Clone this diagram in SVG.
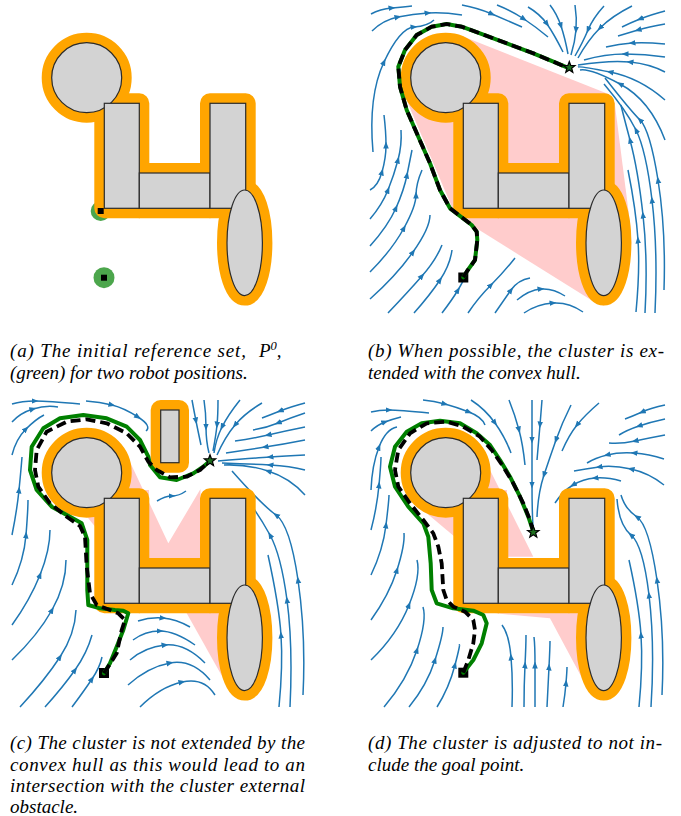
<svg xmlns="http://www.w3.org/2000/svg" xmlns:xlink="http://www.w3.org/1999/xlink" width="681" height="816" viewBox="0 0 681 816">
<style>
.sl{fill:none;stroke:#1f77b4;stroke-width:1.5;marker-mid:url(#ar)}
.hull{fill:#ffcccc}
.gp{fill:none;stroke:#008000;stroke-width:4;stroke-linejoin:round;stroke-linecap:round}
.dp{fill:none;stroke:#000;stroke-width:3.8;stroke-dasharray:10 5;stroke-linejoin:round}
.cap{font-family:"Liberation Serif","Times New Roman",serif;font-style:italic;font-size:19px;fill:#000}
</style>
<defs>
<marker id="ar" viewBox="0 0 10 10" refX="5" refY="5" markerWidth="7" markerHeight="7" markerUnits="userSpaceOnUse" orient="auto">
<path d="M0,1 L10,5 L0,9 Z" fill="#1f77b4"/>
</marker>
<g id="obs-or" fill="#ffa500" stroke="#ffa500" stroke-width="20" stroke-linejoin="round">
<circle cx="86.7" cy="77.7" r="35"/>
<rect x="104.3" y="103.3" width="35" height="105"/>
<rect x="139.3" y="173" width="70.7" height="35.3"/>
<rect x="210" y="103.3" width="35.7" height="105"/>
<ellipse cx="244.7" cy="242.8" rx="17.7" ry="52.8"/>
</g>
<g id="obs-gr" fill="#d3d3d3" stroke="#2b2b2b" stroke-width="1.2">
<circle cx="86.7" cy="77.7" r="35"/>
<rect x="104.3" y="103.3" width="35" height="105"/>
<rect x="139.3" y="173" width="70.7" height="35.3"/>
<rect x="210" y="103.3" width="35.7" height="105"/>
<ellipse cx="244.7" cy="242.8" rx="17.7" ry="52.8"/>
</g>
<path id="star" d="M0,-6 L1.47,-2.02 L5.71,-1.85 L2.38,0.77 L3.53,4.85 L0,2.5 L-3.53,4.85 L-2.38,0.77 L-5.71,-1.85 L-1.47,-2.02 Z" fill="#1e6e1e" stroke="#000" stroke-width="1.2"/>
<rect id="startsq" x="-5" y="-5" width="10" height="10" fill="#000"/>
</defs>
<rect width="681" height="816" fill="#fff"/>

<!-- Panel a -->
<g id="panel-a">
<circle cx="100.7" cy="211" r="10" fill="#4ca64c"/>
<use xlink:href="#obs-or"/>
<use xlink:href="#obs-gr"/>
<circle cx="104" cy="277.7" r="10.5" fill="#4ca64c"/>
<rect x="97.7" y="208" width="6" height="6" fill="#000"/>
<rect x="101" y="274.7" width="6" height="6" fill="#000"/>
</g>

<!-- Panel b -->
<g id="panel-b" transform="translate(359,0)">
<g id="streamlines-b" class="sl">
<path d="M12,14 Q21,9 33,8 T53,6"/>
<path d="M13,31 Q24,20 39,17 T69,13 T103,15"/>
<path d="M14,152 Q9,96 25,62 T55,27 T75,20"/>
<path d="M103,5 Q119,8 133,14 T163,27"/>
<path d="M138,5 Q153,11 165,19 T189,37"/>
<path d="M169,7 Q181,14 188,24 T204,52"/>
<path d="M191,5 Q198,14 202,26 T209,54"/>
<path d="M216,5 Q218,18 217,30 T212,55"/>
<path d="M245,6 Q234,18 229,30 T216,56"/>
<path d="M273,6 Q253,16 241,28 T219,58"/>
<path d="M306,11 Q291,15 281,19 T263,27"/>
<path d="M306,24 Q289,27 279,30 T259,36"/>
<path d="M306,44 Q286,42 273,43 T247,47"/>
<path d="M306,57 Q286,54 266,54 T225,60"/>
<path d="M306,72 Q291,64 271,62 T219,65"/>
<path d="M306,100 Q281,78 251,72 T219,67"/>
<path d="M306,140 Q291,100 261,84 T221,70"/>
<path d="M305,290 Q307,230 299,180 T281,120 T246,78"/>
<path d="M296,313 Q299,250 293,200 T277,130 T245,84"/>
<path d="M286,313 Q289,260 284,215 T271,140 T262,105"/>
<path d="M277,312 Q281,270 279,240 T269,170"/>
<path d="M11,190 Q19,186 23,172 T27,145 T25,115"/>
<path d="M11,219 Q23,205 29,190 T39,160 T42,130"/>
<path d="M11,246 Q29,226 37,208 T48,175 T53,150"/>
<path d="M11,272 Q33,250 45,228 T57,195 T63,170"/>
<path d="M11,299 Q37,276 54,252 T71,215"/>
<path d="M29,313 Q49,292 63,276 T83,245"/>
<path d="M55,313 Q71,295 81,280 T93,250"/>
<path d="M83,313 Q93,300 99,290 T106,276"/>
<path d="M109,313 Q119,298 132,285 T156,258"/>
<path d="M136,313 Q145,300 152,290 T171,278"/>
<path d="M158,300 Q170,290 182,289 T206,296"/>
<path d="M165,313 Q178,304 194,303 T224,312"/>
</g>
<polygon class="hull" points="103.6,36.2 249.4,94 255.7,103.3 271.3,225.3 272.4,242.8 268.7,274.2 258.5,297.2 244.7,305.6 237.3,303.3 99,216.8 95.1,212.2 45.6,95.6"/>
<use xlink:href="#obs-or"/>
<use xlink:href="#obs-gr"/>
<use xlink:href="#startsq" x="104.3" y="277.5"/>
<g id="path-b">
<path class="gp" d="M104.3,277.3 L107.7,271.7 L116,260 L118.3,240 L117.7,231.7 L112.7,225 L91,208.3 L81,190 L71,163.3 L59.3,136.7 L47.7,110 L41,86.7 L39.3,66.7 L46,50 L57.7,35 L72.7,26.7 L87.7,24 L102.7,26.7 L121,33.3 L147.7,43.3 L174.3,53.3 L194.3,61.7 L210.3,68.3"/>
<path class="dp" d="M104.3,277.3 L107.7,271.7 L116,260 L118.3,240 L117.7,231.7 L112.7,225 L91,208.3 L81,190 L71,163.3 L59.3,136.7 L47.7,110 L41,86.7 L39.3,66.7 L46,50 L57.7,35 L72.7,26.7 L87.7,24 L102.7,26.7 L121,33.3 L147.7,43.3 L174.3,53.3 L194.3,61.7 L210.3,68.3"/>
</g>
<use xlink:href="#star" x="210.3" y="67.5"/>
</g>

<!-- Panel c -->
<g id="panel-c" transform="translate(0,395)">
<g id="streamlines-c" class="sl">
<path d="M12,9 Q22,6 35,6 T80,9"/>
<path d="M12,27 Q20,18 33,14 T58,12"/>
<path d="M86,6 Q100,7 112,10 T138,22 T146,36"/>
<path d="M192,5 Q194,16 196,26 T201,50"/>
<path d="M204,5 Q206,18 206,32 T209,58"/>
<path d="M218,5 Q218,20 217,30 T213,56"/>
<path d="M240,5 Q228,20 222,32 T214,58"/>
<path d="M262,8 Q245,18 235,30 T217,60"/>
<path d="M305,8 Q290,12 280,16 T262,23"/>
<path d="M305,18 Q290,23 278,28 T253,35"/>
<path d="M305,32 Q285,36 268,40 T235,46"/>
<path d="M305,45 Q285,49 265,52 T226,58"/>
<path d="M305,60 Q285,61 270,62 T218,66"/>
<path d="M305,75 Q290,71 270,70 T222,68"/>
<path d="M305,100 Q290,83 268,76 T224,70"/>
<path d="M303,300 Q306,240 298,185 T276,120 T232,76"/>
<path d="M290,312 Q293,250 287,205 T270,140 T244,100"/>
<path d="M279,312 Q283,270 281,240 T268,160"/>
<path d="M12,60 Q16,44 26,34 T44,20"/>
<path d="M12,140 Q17,115 19,95 T22,62"/>
<path d="M12,190 Q24,165 26,140 T28,105"/>
<path d="M12,230 Q30,205 40,180 T50,135"/>
<path d="M12,265 Q38,240 52,215 T66,165"/>
<path d="M20,312 Q45,285 60,262 T76,215"/>
<path d="M45,312 Q63,292 75,275 T92,240"/>
<path d="M72,312 Q84,296 92,284 T102,262"/>
<path d="M138,226 Q150,222 163,223 T190,232"/>
<path d="M133,245 Q145,236 160,236 T195,250"/>
<path d="M130,265 Q145,252 165,250 T205,268"/>
<path d="M128,290 Q148,272 170,268 T210,285"/>
<path d="M140,312 Q160,292 182,287 T215,300"/>
<path d="M157,106 Q165,101 172,101 T186,96"/>
</g>
<polygon class="hull" points="130,67 168.3,148.3 200.5,94 200.5,163 149,163 149,95 125,95"/>
<polygon class="hull" points="84,118 97,118 97,134"/>
<polygon class="hull" points="186,217 227,290 245,250 245,217"/>
<use xlink:href="#obs-or"/>
<rect x="160.7" y="15" width="18.3" height="52.7" fill="#ffa500" stroke="#ffa500" stroke-width="20" stroke-linejoin="round"/>
<use xlink:href="#obs-gr"/>
<rect x="160.7" y="15" width="18.3" height="52.7" fill="#d3d3d3" stroke="#2b2b2b" stroke-width="1.2"/>
<use xlink:href="#startsq" x="104" y="278"/>
<g id="path-c">
<path class="gp" d="M104,278.3 L110,268.3 L116.7,251.7 L123.3,235 L128.3,218.3 L123.3,215.7 L115,215 L100,213.3 L88.3,210 L87.3,195 L87.3,168.3 L87.3,145 L81.7,128.3 L70,121.7 L51.7,111.7 L36.7,95 L30,75 L31.7,51.7 L43.3,33.3 L60,23.3 L83.3,20 L106.7,23.3 L126.7,31.7 L140,45 L148.3,61.7 L150,70 L160,82.3 L176.7,85 L193.3,78.3 L203.3,71.7 L210,65.7"/>
<path class="dp" d="M104,278.3 L116.7,258.3 L121.7,235 L125,225 L118.3,218.3 L110,215 L96.7,210 L90,198.3 L86.7,171.7 L85,141.7 L80,131 L66.7,121.7 L50,108.3 L38.3,91.7 L35,75 L36.7,55 L46.7,36.7 L66.7,26.7 L86.7,24.3 L106.7,28.3 L126.7,38.3 L140,51.7 L148.3,66.7 L156.7,75 L170,82.3 L186.7,81.7 L200,75 L210,65.7"/>
</g>
<use xlink:href="#star" x="210" y="65.7"/>
</g>

<!-- Panel d -->
<g id="panel-d" transform="translate(359,395)">
<g id="streamlines-d" class="sl">
<path d="M12,17 Q20,15 30,15 T70,18"/>
<path d="M12,36 Q18,30 26,27 T42,22"/>
<path d="M64,5 Q75,6 86,9 T110,17 T126,30"/>
<path d="M112,5 Q126,14 136,28 T152,58"/>
<path d="M150,5 Q156,20 160,35 T166,70"/>
<path d="M173,5 Q173,25 173,45 T173,90 T174,132"/>
<path d="M183,5 Q182,18 181,30 T178,65"/>
<path d="M212,10 Q203,28 197,45 T185,80 T178,122"/>
<path d="M240,8 Q226,20 218,30 T203,56"/>
<path d="M306,10 Q292,13 283,17 T266,24"/>
<path d="M306,24 Q292,27 280,31 T260,40"/>
<path d="M306,40 Q290,43 276,46 T250,48"/>
<path d="M305,64 Q290,59 275,58 T248,60 T228,68"/>
<path d="M262,86 Q248,82 236,83 T214,90 T196,108"/>
<path d="M305,90 Q290,78 272,74 T240,72 T215,76"/>
<path d="M303,300 Q306,240 298,185 T278,122 T262,100"/>
<path d="M292,312 Q296,250 290,200 T272,140 T258,104"/>
<path d="M280,312 Q284,270 282,240 T270,165"/>
<path d="M12,95 Q13,70 20,52 T38,32"/>
<path d="M12,135 Q18,112 20,90 T22,62"/>
<path d="M12,180 Q24,155 27,130 T30,100"/>
<path d="M12,225 Q30,200 38,175 T45,138"/>
<path d="M12,265 Q38,240 50,210 T58,165"/>
<path d="M25,312 Q48,285 58,255 T64,212"/>
<path d="M50,312 Q68,290 76,265 T84,232"/>
<path d="M78,312 Q90,293 96,270 T100,250"/>
<path d="M153,312 Q154,285 152,262 T143,230"/>
<path d="M165,312 Q165,290 166,270 T167,240"/>
<path d="M176,312 Q176,290 176,270 T175,242"/>
<path d="M188,312 Q189,292 190,272 T191,246"/>
<path d="M204,312 Q206,300 207,288 T208,272"/>
</g>
<polygon class="hull" points="129.5,72 174.3,161.7 148,161.7 148,95 125,95"/>
<polygon class="hull" points="65,116 81,105 96,105 96,142"/>
<polygon class="hull" points="136,218.3 191,223.3 223,283 241,245 241,218"/>
<use xlink:href="#obs-or"/>
<use xlink:href="#obs-gr"/>
<use xlink:href="#startsq" x="104.3" y="277.7"/>
<g id="path-d">
<path class="gp" d="M104.3,277.7 L114.3,265 L122.7,248.3 L127.7,228.3 L124.3,220 L114.3,215.7 L94.3,213.3 L77.7,208.3 L72.7,195 L71.7,168.3 L69.3,141.7 L64.3,128.3 L49.3,111.7 L36,91.7 L31,71.7 L36,51.7 L47.7,36.7 L62.7,28.3 L81,25.7 L101,28.3 L117.7,38.3 L131,50 L141,65 L151,81.7 L161,101.7 L169.3,121.7 L174.3,136.7"/>
<path class="dp" d="M104.3,277.7 L109.3,265 L114.3,248.3 L116,235 L114.3,225 L106,216.7 L94.3,211.7 L87.7,205 L84.3,195 L82.7,168.3 L79.3,151.7 L74.3,138.3 L64.3,125 L51,108.3 L39.3,91.7 L36,75 L39.3,55 L51,38.3 L67.7,28.3 L87.7,26.7 L104.3,31.7 L121,41.7 L132.7,55 L144.3,71.7 L154.3,88.3 L164.3,108.3 L171,125 L174.3,136.7"/>
</g>
<use xlink:href="#star" x="174.3" y="137.3"/>
</g>

<!-- Captions -->
<g id="captions">
<text class="cap" x="10" y="357" textLength="236" lengthAdjust="spacing">(a) The initial reference set,</text>
<text class="cap" x="259" y="357">P<tspan dy="-7" font-size="12.5">0</tspan><tspan dy="7">,</tspan></text>
<text class="cap" x="10" y="378.5">(green) for two robot positions.</text>
<text class="cap" x="368" y="357" textLength="296" lengthAdjust="spacing">(b) When possible, the cluster is ex-</text>
<text class="cap" x="368" y="378.5">tended with the convex hull.</text>
<text class="cap" x="10" y="749" textLength="295" lengthAdjust="spacing">(c) The cluster is not extended by the</text>
<text class="cap" x="10" y="770.5" textLength="295" lengthAdjust="spacing">convex hull as this would lead to an</text>
<text class="cap" x="10" y="792" textLength="295" lengthAdjust="spacing">intersection with the cluster external</text>
<text class="cap" x="10" y="812.5">obstacle.</text>
<text class="cap" x="368" y="749" textLength="294" lengthAdjust="spacing">(d) The cluster is adjusted to not in-</text>
<text class="cap" x="368" y="770.5">clude the goal point.</text>
</g>
</svg>
